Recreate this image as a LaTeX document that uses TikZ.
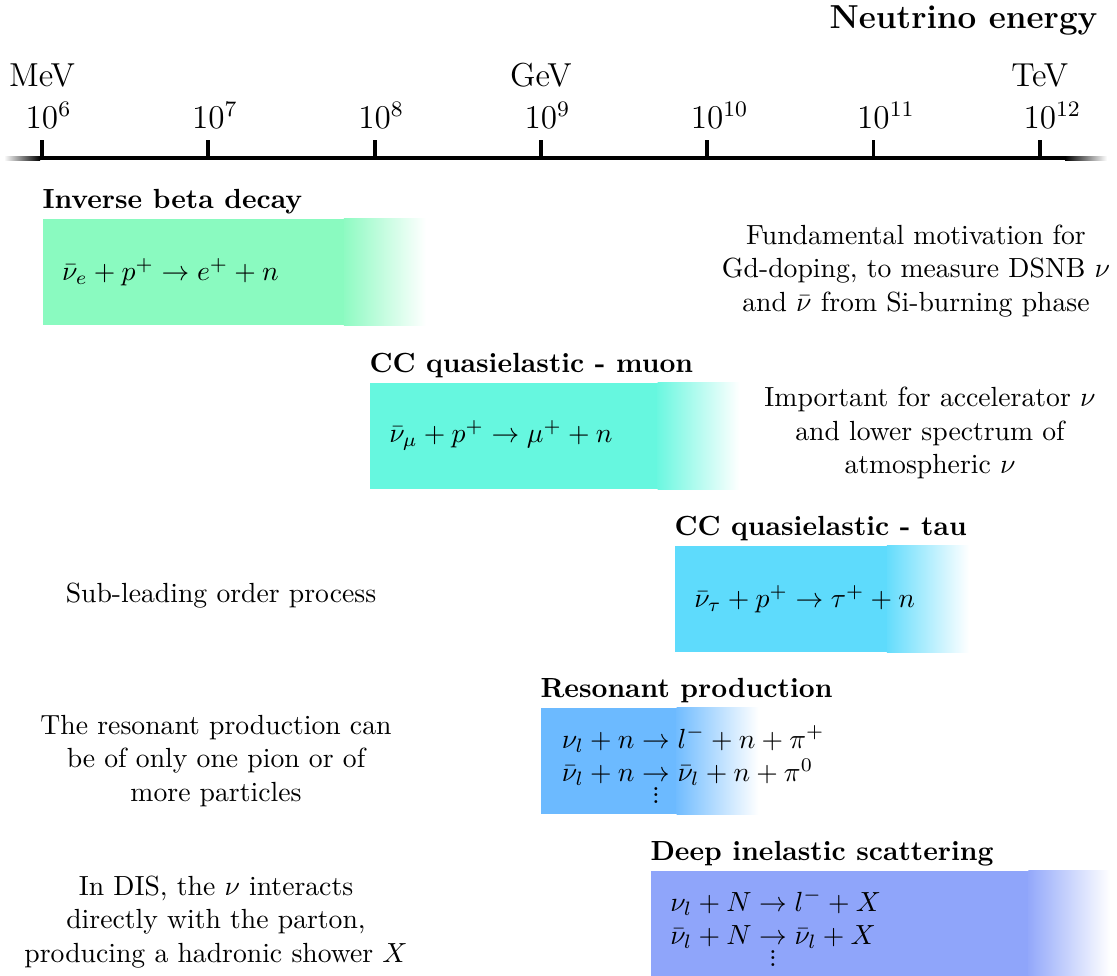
\documentclass[tikz,border=0pt]{standalone}
\usepackage{amsmath}
\usepackage{tikz}
\usetikzlibrary{positioning, calc}
\definecolor{ibdcolor}{RGB}{138, 250, 192}
\definecolor{mucolor}{RGB}{102, 247, 223}
\definecolor{taucolor}{RGB}{94, 219, 252}
\definecolor{rescolor}{RGB}{108, 186, 255}
\definecolor{discolor}{RGB}{143, 165, 250}
\newcommand{\smalldots}{\vbox{\baselineskip=2.4pt\lineskiplimit=0pt\hbox{.}\hbox{.}\hbox{.}}}

\begin{document}
\begin{tikzpicture}[
  x=0.0127cm, y=-0.0127cm,
  axis/.style={line width=1.4pt, color=black},
  tickmark/.style={line width=1.4pt},
  ticklabel/.style={font=\large, inner sep=2pt},
  unitlabel/.style={font=\large, inner sep=2pt},
  procbox/.style={rectangle, fill=#1, anchor=north west, inner sep=0pt,
                  minimum height=1.35cm},
  title/.style={font=\bfseries, inner sep=0pt},
  eqn/.style={inner sep=0pt, align=left},
  desc/.style={align=center, inner sep=0pt},
]

\useasboundingbox (0,0) rectangle (1117,976);

% Energy axis
\coordinate (axl) at (40,158);
\coordinate (axr) at (1065,158);
\draw[axis] (axl) -- (axr);
\shade[left color=white, right color=black] ($(axl)+(-36,-2)$) rectangle ($(axl)+(0,2)$);
\shade[left color=black, right color=white] ($(axr)+(0,-2)$) rectangle ($(axr)+(42,2)$);

\foreach \e [count=\i from 0] in {6,...,12} {
  \coordinate (t\e) at (42+166.3*\i,158);
  \draw[tickmark] (t\e) -- ++(0,-18) coordinate (tt\e);
  \node[ticklabel, above=2pt of tt\e] (l\e) {$10\rlap{$^{\e}$}$};
}

\node[unitlabel, above=1pt of l6] (mev) {MeV};
\node[unitlabel, above=1pt of l9] (gev) {GeV};
\node[unitlabel, above=1pt of l12] (tev) {TeV};
\node[font=\large\bfseries, anchor=base east, inner sep=0pt] (axtitle) at (1098,28) {Neutrino energy};

% Processes
\node[procbox=ibdcolor, minimum width=4.86cm] (ibd) at (42,218) {};
\node[procbox=mucolor, minimum width=4.69cm] (ccmu) at (369,382) {};
\node[procbox=taucolor, minimum width=3.73cm] (cctau) at (674,545) {};
\node[procbox=rescolor, minimum width=2.76cm] (res) at (540,707) {};
\node[procbox=discolor, minimum width=5.83cm] (dis) at (650,870) {};

% fading right ends
\foreach \b/\c in {ibd/ibdcolor, ccmu/mucolor, cctau/taucolor, res/rescolor, dis/discolor}
  \shade[left color=\c!96!white, right color=white]
    ($(\b.north east)+(-82,0)$) rectangle (\b.south east);

\node[title, above right=1.3pt and 0pt of ibd.north west] (ibdtitle) {Inverse beta decay};
\node[title, above right=1.3pt and 0pt of ccmu.north west] (ccmutitle) {CC quasielastic - muon};
\node[title, above right=1.3pt and 0pt of cctau.north west] (cctautitle) {CC quasielastic - tau};
\node[title, above right=1.3pt and 0pt of res.north west] (restitle) {Resonant production};
\node[title, above right=1.3pt and 0pt of dis.north west] (distitle) {Deep inelastic scattering};

\node[eqn, right=0.25cm of ibd.west] (ibdeq) {$\bar{\nu}_e + p^+ \rightarrow e^+ + n$};
\node[eqn, right=0.25cm of ccmu.west] (ccmueq) {$\bar{\nu}_\mu + p^+ \rightarrow \mu^+ + n$};
\node[eqn, right=0.25cm of cctau.west] (cctaueq) {$\bar{\nu}_\tau + p^+ \rightarrow \tau^+ + n$};
\node[eqn, right=0.27cm of res.west, yshift=-3pt] (reseq) {$\begin{array}{@{}l@{}c@{}l@{}}
  \nu_l + n & {}\rightarrow{} & l^- + n + \pi^+ \\
  \bar{\nu}_l + n & {}\rightarrow{} & \bar{\nu}_l + n + \pi^0 \\[-4pt]
  & \smalldots &
\end{array}$};
\node[eqn, right=0.25cm of dis.west, yshift=-3pt] (diseq) {$\begin{array}{@{}l@{}c@{}l@{}}
  \nu_l + N & {}\rightarrow{} & l^- + X \\
  \bar{\nu}_l + N & {}\rightarrow{} & \bar{\nu}_l + X \\[-4pt]
  & \smalldots &
\end{array}$};

% Descriptions
\node[desc] (ibddesc) at (916,271) {Fundamental motivation for\\
  Gd-doping, to measure DSNB $\nu$\\ and $\bar{\nu}$ from Si-burning phase};
\node[desc] (ccmudesc) at (930,433) {Important for accelerator $\nu$\\
  and lower spectrum of\\ atmospheric $\nu$};
\node[desc] (cctaudesc) at (221,596) {Sub-leading order process};
\node[desc] (resdesc) at (216,761) {The resonant production can\\
  be of only one pion or of\\ more particles};
\node[desc] (disdesc) at (216,922) {In DIS, the $\nu$ interacts\\
  directly with the parton,\\ producing a hadronic shower $X$};

\end{tikzpicture}
\end{document}
